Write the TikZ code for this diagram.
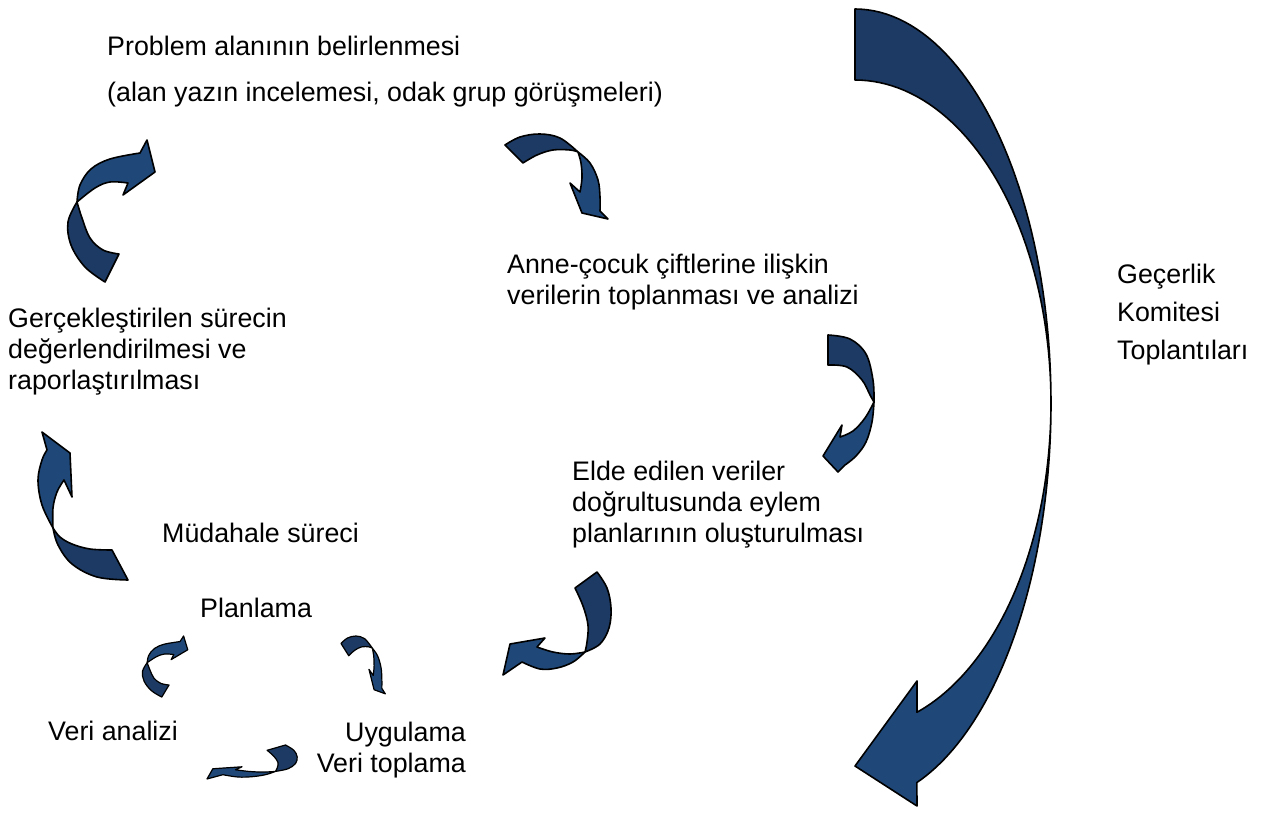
\documentclass[tikz,border=0pt]{standalone}
\usepackage{fontspec}
\setmainfont{Liberation Sans}
\definecolor{arrdark}{HTML}{1C3A63}
\definecolor{arrlight}{HTML}{1F4878}
\begin{document}
\begin{tikzpicture}[x=1pt,y=-1pt,
  darkpart/.style={fill=arrdark, draw=black, line width=1.6pt, line join=round},
  lightpart/.style={fill=arrlight, draw=black, line width=1.6pt, line join=round},
  txt/.style={font=\fontsize{26.8}{31}\selectfont, inner sep=0pt, align=left},
  sm/.style={smooth, tension=0.6}]
\useasboundingbox[fill=white] (0,0) rectangle (1264,816);

% ---------- text (anchored at the baseline of the last line) ----------
\node[txt, anchor=base west] (prob) at (107,101) {Problem alanının belirlenmesi\\[15pt](alan yazın incelemesi, odak grup görüşmeleri)};
\node[txt, anchor=base west] (anne) at (507,304) {Anne-çocuk çiftlerine ilişkin\\verilerin toplanması ve analizi};
\node[txt, anchor=base west] (gerc) at (8,389) {Gerçekleştirilen sürecin\\değerlendirilmesi ve\\raporlaştırılması};
\node[txt, anchor=base west] (elde) at (572,542) {Elde edilen veriler\\doğrultusunda eylem\\planlarının oluşturulması};
\node[txt, anchor=base west] (mud) at (162,542) {Müdahale süreci};
\node[txt, anchor=base west] (plan) at (200,617) {Planlama};
\node[txt, anchor=base west] (analiz) at (48,740) {Veri analizi};
\node[txt, anchor=base east, align=right] (uyg) at (466,772) {Uygulama\\Veri toplama};
\node[txt, anchor=base west, font=\fontsize{26.8}{38}\selectfont] (kom) at (1117,359) {Geçerlik\\Komitesi\\Toplantıları};

% ---------- big arrow ----------
\filldraw[darkpart] plot[domain=-90:0, samples=50, variable=\t] ({855+196*cos(\t)},{403+394*sin(\t)})
  -- plot[domain=0:-90, samples=50, variable=\t] ({855+196*cos(\t)},{403+323*sin(\t)}) -- cycle;
\filldraw[lightpart] plot[domain=0:71.6, samples=50, variable=\t] ({855+196*cos(\t)},{403+400*sin(\t)})
  -- (917,806) -- (855,766) -- (917,681) -- (917,712)
  -- plot[domain=71.6:0, samples=50, variable=\t] ({855+196*cos(\t)},{403+326*sin(\t)}) -- cycle;

% ---------- arrow A (top middle) ----------
\newcommand\arrowA{%
\filldraw[darkpart] plot[sm] coordinates {(505,145) (520,137) (540,134) (560,138) (578,152)}
  -- plot[sm] coordinates {(578,152) (570,150) (553,150) (537,155) (523,163)} -- cycle;
\filldraw[lightpart] plot[sm] coordinates {(578,152) (590,163) (598,180) (600,197) (600,211)}
  -- (608,219) -- (582,213) -- (570,183) -- (580,192)
  -- plot[sm] coordinates {(580,192) (582,178) (581,163) (578,152)} -- cycle;}
\arrowA

% ---------- arrow B (top left) ----------
\newcommand\arrowB{%
\filldraw[darkpart] plot[sm] coordinates {(77,202) (68,222) (71,245) (85,267) (105,282)}
  -- (119,254)
  -- plot[sm] coordinates {(119,254) (103,250) (90,238) (82,218) (77,202)} -- cycle;
\filldraw[lightpart] plot[sm] coordinates {(77,202) (80,185) (91,169) (110,159) (140,153)}
  -- (147,140) -- (155,172) -- (123,195) -- (128,183)
  -- plot[sm] coordinates {(128,183) (110,182) (95,188) (77,202)} -- cycle;}
\arrowB

% ---------- arrow C (right middle) ----------
\filldraw[darkpart] (828,335) -- (828,365)
  -- plot[sm] coordinates {(828,365) (847,367) (862,380) (870,395) (874,402)}
  -- plot[sm] coordinates {(874,402) (873,380) (866,354) (850,339) (828,335)} -- cycle;
\filldraw[lightpart] plot[sm] coordinates {(874,402) (872,422) (866,442) (856,456) (845,465)}
  -- (838,472) -- (823,456) -- (842,425) -- (840,437)
  -- plot[sm] coordinates {(840,437) (853,431) (865,418) (874,402)} -- cycle;

% ---------- arrow D (lower middle) ----------
\newcommand\arrowD{%
\filldraw[darkpart] (597,572) -- (575,588)
  -- plot[sm] coordinates {(575,588) (583,606) (588,625) (587,642) (585,652)}
  -- plot[sm] coordinates {(585,652) (600,644) (609,628) (611,608) (607,588) (597,572)} -- cycle;
\filldraw[lightpart] plot[sm] coordinates {(585,652) (573,662) (557,668) (540,669) (522,662)}
  -- (503,675) -- (510,644) -- (545,638) -- (537,647)
  -- plot[sm] coordinates {(537,647) (553,652) (570,654) (585,652)} -- cycle;}
\arrowD

% ---------- arrow E (lower left) ----------
\filldraw[darkpart] (112,550) -- (128,580)
  -- plot[sm] coordinates {(128,580) (97,577) (72,564) (58,545) (53,528)}
  -- plot[sm] coordinates {(53,528) (60,537) (72,544) (90,549) (112,550)} -- cycle;
\filldraw[lightpart] plot[sm] coordinates {(53,528) (42,505) (38,480) (42,460) (47,450)}
  -- (42,432) -- (70,453) -- (72,497) -- (64,480)
  -- plot[sm] coordinates {(64,480) (57,492) (53,508) (53,528)} -- cycle;

% ---------- small cycle arrows ----------
\begin{scope}[shift={(142,636)}, xscale=0.52, yscale=0.43, shift={(-67,-140)}, darkpart/.append style={line width=1.2pt}, lightpart/.append style={line width=1.2pt}]
\arrowB
\end{scope}
\begin{scope}[shift={(341,636)}, xscale=0.43, yscale=0.68, shift={(-505,-134)}, darkpart/.append style={line width=1.2pt}, lightpart/.append style={line width=1.2pt}]
\arrowA
\end{scope}
\begin{scope}[shift={(207,745)}, xscale=0.835, yscale=0.33, shift={(-503,-572)}, darkpart/.append style={line width=1.2pt}, lightpart/.append style={line width=1.2pt}]
\arrowD
\end{scope}
\end{tikzpicture}
\end{document}
